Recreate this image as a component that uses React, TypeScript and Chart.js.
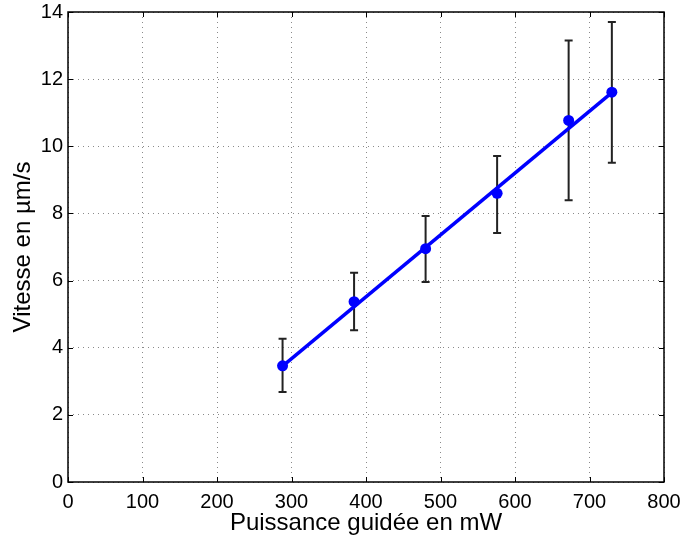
import React, { useEffect, useRef } from "react";
import { Chart, registerables } from "chart.js";

Chart.register(...registerables);

const powerMW = [288, 384, 480, 576, 672, 730];
const speed = [3.46, 5.37, 6.95, 8.6, 10.77, 11.61];
const errLow = [2.68, 4.52, 5.96, 7.42, 8.39, 9.51];
const errHigh = [4.27, 6.23, 7.92, 9.71, 13.15, 13.7];
const fitX = [288, 730];
const fitY = [3.45, 11.6];
const xTicks = [0, 100, 200, 300, 400, 500, 600, 700, 800];
const yTicks = [0, 2, 4, 6, 8, 10, 12, 14];

const FONT = "'Liberation Sans', Arial, Helvetica, sans-serif";

const framePlugin = {
  id: "frame",
  beforeDatasetsDraw(chart: any) {
    const { ctx, scales } = chart;
    const x = scales.x;
    const y = scales.y;
    ctx.save();
    ctx.strokeStyle = "#222222";
    ctx.lineWidth = 2;
    const cap = 4;
    for (let i = 0; i < powerMW.length; i++) {
      const px = x.getPixelForValue(powerMW[i]);
      const pLo = y.getPixelForValue(errLow[i]);
      const pHi = y.getPixelForValue(errHigh[i]);
      ctx.beginPath();
      ctx.moveTo(px, pLo);
      ctx.lineTo(px, pHi);
      ctx.moveTo(px - cap, pLo);
      ctx.lineTo(px + cap, pLo);
      ctx.moveTo(px - cap, pHi);
      ctx.lineTo(px + cap, pHi);
      ctx.stroke();
    }
    ctx.restore();
  },
  afterDraw(chart: any) {
    const { ctx, chartArea: a, scales } = chart;
    const x = scales.x;
    const y = scales.y;
    ctx.save();
    ctx.strokeStyle = "#000000";
    ctx.lineWidth = 1;
    const tl = 5;
    ctx.beginPath();
    for (const v of xTicks) {
      const px = Math.round(x.getPixelForValue(v)) + 0.5;
      ctx.moveTo(px, a.bottom);
      ctx.lineTo(px, a.bottom - tl);
      ctx.moveTo(px, a.top);
      ctx.lineTo(px, a.top + tl);
    }
    for (const v of yTicks) {
      const py = Math.round(y.getPixelForValue(v)) + 0.5;
      ctx.moveTo(a.left, py);
      ctx.lineTo(a.left + tl, py);
      ctx.moveTo(a.right, py);
      ctx.lineTo(a.right - tl, py);
    }
    ctx.stroke();
    ctx.lineWidth = 1.5;
    ctx.strokeRect(a.left, a.top, a.right - a.left, a.bottom - a.top);
    ctx.restore();
  },
};

export default function App() {
  const ref = useRef<HTMLCanvasElement>(null);
  useEffect(() => {
    if (!ref.current) return;
    const chart = new Chart(ref.current, {
      type: "scatter",
      data: {
        datasets: [
          {
            type: "line",
            label: "fit",
            data: fitX.map((v, i) => ({ x: v, y: fitY[i] })),
            borderColor: "#0000ff",
            borderWidth: 3.5,
            pointRadius: 0,
            fill: false,
          },
          {
            label: "mesures",
            data: powerMW.map((v, i) => ({ x: v, y: speed[i] })),
            backgroundColor: "#0000ff",
            borderColor: "#0000ff",
            pointRadius: 5.5,
            pointBorderWidth: 0,
            showLine: false,
          },
        ],
      },
      options: {
        responsive: false,
        animation: false,
        layout: { padding: { top: 12, right: 17, left: 0, bottom: 0 } },
        plugins: {
          legend: { display: false },
          tooltip: { enabled: false },
        },
        scales: {
          x: {
            type: "linear",
            min: 0,
            max: 800,
            afterBuildTicks: (s: any) => {
              s.ticks = xTicks.map((v) => ({ value: v }));
            },
            afterFit: (s: any) => {
              s.height = 53;
              s.paddingLeft = 0;
              s.paddingRight = 0;
            },
            grid: {
              color: "#8a8a8a",
              lineWidth: 1,
              drawTicks: false,
              tickLength: 0,
            },
            border: { display: false, dash: [1, 4] },
            ticks: {
              color: "#000",
              font: { family: FONT, size: 20 },
              padding: 8,
              maxRotation: 0,
              callback: (v: any) => String(v),
            },
            title: {
              display: true,
              text: "Puissance guidée en mW",
              color: "#000",
              font: { family: FONT, size: 24, lineHeight: 1.0 },
              padding: { top: 0, bottom: 0 },
            },
          },
          y: {
            type: "linear",
            min: 0,
            max: 14,
            afterBuildTicks: (s: any) => {
              s.ticks = yTicks.map((v) => ({ value: v }));
            },
            afterFit: (s: any) => {
              s.width = 68;
              s.paddingTop = 0;
              s.paddingBottom = 0;
            },
            grid: {
              color: "#8a8a8a",
              lineWidth: 1,
              drawTicks: false,
              tickLength: 0,
            },
            border: { display: false, dash: [1, 4] },
            ticks: {
              color: "#000",
              font: { family: FONT, size: 20 },
              padding: 5,
              callback: (v: any) => String(v),
            },
            title: {
              display: true,
              text: "Vitesse en µm/s",
              color: "#000",
              font: { family: FONT, size: 24 },
              padding: { top: 9, bottom: 0 },
            },
          },
        },
      },
      plugins: [framePlugin],
    } as any);
    return () => chart.destroy();
  }, []);
  return (
    <div style={{ position: "fixed", left: 0, top: 0, width: 681, height: 535, background: "#fff" }}>
      <canvas ref={ref} width={681} height={535} style={{ display: "block" }} />
    </div>
  );
}
